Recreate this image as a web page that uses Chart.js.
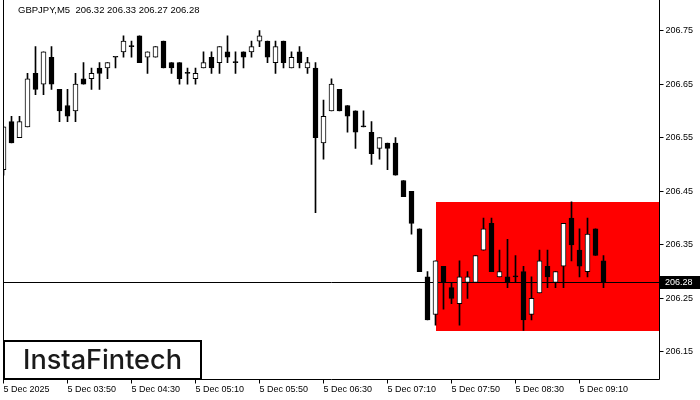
<!DOCTYPE html>
<html>
<head>
<meta charset="utf-8">
<script src="https://cdn.jsdelivr.net/npm/chart.js@4.4.1/dist/chart.umd.min.js"></script>
<style>
  html, body { margin: 0; padding: 0; background: #ffffff; }
  #wrap { width: 700px; height: 400px; }
</style>
</head>
<body>
<div id="wrap"><canvas id="c" width="700" height="400"></canvas></div>
<script>
const symbol = 'GBPJPY';
const timeframe = 'M5';

const times = [
  '03:10','03:15','03:20','03:25','03:30','03:35','03:40','03:45','03:50','03:55',
  '04:00','04:05','04:10','04:15','04:20','04:25','04:30','04:35','04:40','04:45','04:50','04:55',
  '05:00','05:05','05:10','05:15','05:20','05:25','05:30','05:35','05:40','05:45','05:50','05:55',
  '06:00','06:05','06:10','06:15','06:20','06:25','06:30','06:35','06:40','06:45','06:50','06:55',
  '07:00','07:05','07:10','07:15','07:20','07:25','07:30','07:35','07:40','07:45','07:50','07:55',
  '08:00','08:05','08:10','08:15','08:20','08:25','08:30','08:35','08:40','08:45','08:50','08:55',
  '09:00','09:05','09:10','09:15','09:20','09:25',
  '09:30','09:35','09:40','09:45','09:50','09:55','10:00'
];

const open = [
  206.49,206.58,206.55,206.57,206.67,206.65,206.70,206.64,206.61,206.60,
  206.66,206.66,206.68,206.68,206.70,206.71,206.72,206.74,206.70,206.70,
  206.73,206.69,206.69,206.67,206.66,206.68,206.70,206.69,206.71,206.69,
  206.71,206.71,206.73,206.73,206.69,206.73,206.68,206.71,206.68,206.68,
  206.54,206.60,206.64,206.61,206.60,206.57,206.56,206.53,206.54,206.54,
  206.47,206.45,206.38,206.29,206.22,206.31,206.27,206.24,206.28,206.28,
  206.34,206.39,206.29,206.29,206.29,206.30,206.22,206.26,206.31,206.28,
  206.31,206.40,206.34,206.30,206.38,206.32
];
const high = [
  206.57,206.59,206.59,206.67,206.72,206.71,206.72,206.64,206.64,206.67,
  206.69,206.68,206.69,206.69,206.70,206.74,206.73,206.74,206.71,206.72,
  206.73,206.69,206.69,206.68,206.68,206.71,206.71,206.72,206.74,206.71,
  206.71,206.73,206.75,206.73,206.73,206.73,206.71,206.72,206.70,206.69,
  206.62,206.66,206.64,206.61,206.60,206.60,206.58,206.55,206.54,206.55,
  206.47,206.45,206.38,206.30,206.32,206.31,206.28,206.32,206.30,206.33,
  206.40,206.40,206.34,206.36,206.33,206.31,206.29,206.34,206.34,206.30,
  206.39,206.43,206.38,206.40,206.38,206.33
];
const low = [
  206.48,206.54,206.55,206.57,206.63,206.63,206.64,206.58,206.58,206.58,
  206.65,206.64,206.64,206.66,206.68,206.70,206.70,206.69,206.67,206.70,
  206.68,206.67,206.65,206.65,206.65,206.68,206.67,206.67,206.69,206.67,
  206.68,206.70,206.72,206.69,206.67,206.68,206.68,206.68,206.67,206.41,
  206.51,206.60,206.60,206.56,206.53,206.57,206.50,206.51,206.49,206.48,
  206.44,206.37,206.30,206.21,206.20,206.23,206.24,206.20,206.25,206.28,
  206.34,206.30,206.29,206.27,206.28,206.19,206.21,206.26,206.27,206.27,
  206.27,206.32,206.29,206.29,206.33,206.27
];
const close = [
  206.57,206.54,206.58,206.66,206.64,206.71,206.65,206.60,206.59,206.65,
  206.65,206.67,206.67,206.69,206.70,206.73,206.72,206.69,206.71,206.72,
  206.68,206.68,206.66,206.67,206.67,206.69,206.68,206.72,206.70,206.69,
  206.70,206.72,206.74,206.70,206.72,206.69,206.70,206.69,206.69,206.55,
  206.59,206.65,206.60,206.59,206.56,206.57,206.52,206.55,206.53,206.48,
  206.44,206.39,206.30,206.21,206.32,206.28,206.25,206.29,206.29,206.33,
  206.38,206.30,206.30,206.28,206.29,206.21,206.25,206.32,206.29,206.30,
  206.39,206.35,206.31,206.37,206.33,206.28
];

const yTickValues = [206.15, 206.25, 206.35, 206.45, 206.55, 206.65, 206.75];
const xTickTimes = ['03:10','03:50','04:30','05:10','05:50','06:30','07:10','07:50','08:30','09:10'];
const xTickTexts = ['5 Dec 2025','5 Dec 03:50','5 Dec 04:30','5 Dec 05:10','5 Dec 05:50',
                    '5 Dec 06:30','5 Dec 07:10','5 Dec 07:50','5 Dec 08:30','5 Dec 09:10'];

const zoneStartTime = '07:40';
const zoneTop = 206.43;
const zoneBottom = 206.19;
const watermark = 'InstaFintech';

const yMin = 206.0986;
const yMax = 206.8041;

const n = open.length;
const bodies = times.map((t, i) => i < n ? [open[i], close[i]] : null);
const wicks = times.map((t, i) => i < n ? [low[i], high[i]] : null);
const isUp = times.map((t, i) => i < n && close[i] > open[i]);

const AXIS_FONT = { family: '"Liberation Sans", Arial, sans-serif', size: 9 };

const overlay = {
  id: 'overlay',
  beforeDatasetsDraw(chart) {
    const { ctx, chartArea: a, scales: { x, y } } = chart;
    ctx.save();
    const zx = x.getPixelForValue(times.indexOf(zoneStartTime));
    const zt = y.getPixelForValue(zoneTop);
    const zb = y.getPixelForValue(zoneBottom);
    ctx.fillStyle = '#ff0000';
    ctx.fillRect(Math.round(zx), Math.round(zt), a.right - Math.round(zx), Math.round(zb) - Math.round(zt));
    const by = Math.round(y.getPixelForValue(close[n - 1])) + 0.5;
    ctx.strokeStyle = '#000';
    ctx.lineWidth = 1;
    ctx.beginPath();
    ctx.moveTo(a.left, by);
    ctx.lineTo(a.right, by);
    ctx.stroke();
    ctx.restore();
  },
  afterDraw(chart) {
    const { ctx, chartArea: a, scales: { y } } = chart;
    ctx.save();
    ctx.strokeStyle = '#000';
    ctx.lineWidth = 1;
    ctx.beginPath();
    ctx.moveTo(a.left, 0);
    ctx.lineTo(a.left, a.bottom);
    ctx.lineTo(a.right, a.bottom);
    ctx.lineTo(a.right, 0);
    ctx.stroke();

    const last = n - 1;
    const hdr = symbol + ',' + timeframe + '  ' +
      [open[last], high[last], low[last], close[last]].map(v => v.toFixed(2)).join(' ');
    ctx.fillStyle = '#000';
    ctx.font = '9.5px "Liberation Sans", Arial, sans-serif';
    ctx.textBaseline = 'alphabetic';
    ctx.textAlign = 'left';
    ctx.fillText(hdr, 18, 13);

    const py = Math.round(y.getPixelForValue(close[last]));
    ctx.fillStyle = '#000';
    ctx.fillRect(a.right + 0.5, py - 6, 700 - a.right, 13);
    ctx.fillStyle = '#fff';
    ctx.font = '9px "Liberation Sans", Arial, sans-serif';
    ctx.textBaseline = 'middle';
    ctx.fillText(close[last].toFixed(2), 665, py + 0.5);

    ctx.fillStyle = '#fff';
    ctx.fillRect(4, 341, 197, 38);
    ctx.strokeStyle = '#000';
    ctx.lineWidth = 2;
    ctx.strokeRect(4, 341, 197, 38);
    let fs = 26;
    ctx.font = '500 ' + fs + 'px Inter, "Open Sans", sans-serif';
    const w = ctx.measureText(watermark).width;
    fs = fs * 159 / w;
    ctx.font = '500 ' + fs.toFixed(2) + 'px Inter, "Open Sans", sans-serif';
    ctx.fillStyle = '#1a1a1a';
    ctx.textAlign = 'center';
    ctx.textBaseline = 'alphabetic';
    ctx.fillText(watermark, 102.5, 368.5);
    ctx.restore();
  }
};

new Chart(document.getElementById('c'), {
  type: 'bar',
  data: {
    labels: times,
    datasets: [
      {
        label: 'body',
        data: bodies,
        grouped: false,
        barThickness: 5,
        minBarLength: 1,
        backgroundColor: isUp.map(u => u ? '#ffffff' : '#000000'),
        borderColor: '#000000',
        borderWidth: 1,
        borderSkipped: false,
        clip: 0,
        order: 0
      },
      {
        label: 'wick',
        data: wicks,
        grouped: false,
        barThickness: 1,
        backgroundColor: '#000000',
        borderWidth: 0,
        clip: 0,
        order: 1
      }
    ]
  },
  options: {
    responsive: false,
    animation: false,
    events: [],
    layout: { padding: { left: 3.5, top: 1.5, right: 0, bottom: 0 } },
    plugins: { legend: { display: false }, tooltip: { enabled: false } },
    scales: {
      x: {
        type: 'category',
        offset: false,
        grid: { offset: false, drawOnChartArea: false, drawTicks: true, tickLength: 4, color: '#000', tickColor: '#000' },
        border: { display: false },
        ticks: {
          autoSkip: false, maxRotation: 0, minRotation: 0, align: 'start', padding: 1,
          color: '#000', font: AXIS_FONT,
          callback: (v, i) => xTickTexts[i]
        },
        afterBuildTicks: s => { s.ticks = xTickTimes.map(t => ({ value: times.indexOf(t) })); },
        afterFit: s => { s.height = 20.5; s.paddingLeft = 0; s.paddingRight = 0; }
      },
      y: {
        position: 'right',
        min: yMin,
        max: yMax,
        grid: { drawOnChartArea: false, drawTicks: true, tickLength: 4, color: '#000', tickColor: '#000' },
        border: { display: false },
        ticks: { padding: 2, color: '#000', font: AXIS_FONT, callback: v => Number(v).toFixed(2) },
        afterBuildTicks: s => { s.ticks = yTickValues.map(v => ({ value: v })); },
        afterFit: s => { s.width = 40.5; s.paddingTop = 0; s.paddingBottom = 0; }
      }
    }
  },
  plugins: [overlay]
});
</script>
</body>
</html>
